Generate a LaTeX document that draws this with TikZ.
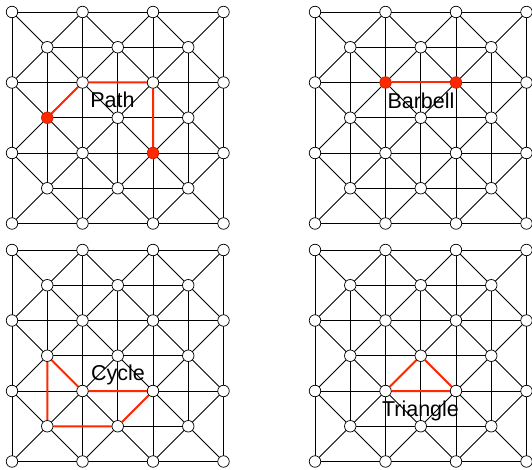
\documentclass[tikz,border=0pt]{standalone}
\usepackage{fontspec}
\setmainfont{Liberation Sans}
\usetikzlibrary{backgrounds}

\definecolor{hotred}{RGB}{255,40,0}

% one square lattice: #1 name prefix, (#2,#3) top-left vertex
\newcommand{\lattice}[3]{%
  \begin{scope}[shift={(#2,#3)}]
    % --- vertices ---
    \foreach \i in {0,2,4,6}
      \foreach \j in {0,2,4,6}
        \node [vtx, #1-\i-\j/.try] (#1-\i-\j) at (\i*35.25, \j*35.25) {};
    \foreach \i in {1,3,5}
      \foreach \j in {1,3,5}
        \node [vtx, #1-\i-\j/.try] (#1-\i-\j) at (\i*35.25, \j*35.25) {};
    % --- edges ---
    \begin{scope}[on background layer]
      \foreach \k in {0,2,4,6} {
        \draw [grid] (#1-0-\k.center) -- (#1-6-\k.center);
        \draw [grid] (#1-\k-0.center) -- (#1-\k-6.center);
      }
      \foreach \k in {1,3,5} {
        \draw [grid] (#1-1-\k.center) -- (#1-5-\k.center);
        \draw [grid] (#1-\k-1.center) -- (#1-\k-5.center);
      }
      \foreach \a/\b in {0/2,2/4,4/6}
        \foreach \c/\d in {0/2,2/4,4/6} {
          \draw [grid] (#1-\a-\c.center) -- (#1-\b-\d.center);
          \draw [grid] (#1-\b-\c.center) -- (#1-\a-\d.center);
        }
    \end{scope}
  \end{scope}}

\begin{document}
\begin{tikzpicture}[
      x=1pt, y=-1pt,
      grid/.style = {draw=black, line width=0.8pt},
      vtx/.style = {circle, draw=black, fill=white, line width=0.7pt, minimum size=11.5pt, inner sep=0pt},
      hot/.style = {fill=hotred, draw=hotred!80!black},
      hl/.style = {draw=hotred, line width=2pt},
      lbl/.style = {font=\fontsize{21.5}{24}\selectfont, inner sep=0pt, anchor=base},
      % --- highlighted vertices ---
      a-1-3/.style = hot, a-4-4/.style = hot,
      b-2-2/.style = hot, b-4-2/.style = hot
    ]
      \useasboundingbox (0,0) rectangle (532,470);

      % --- PATH ---
      \lattice{a}{12}{12}
      \draw [hl] (a-1-3) -- (a-2-2) -- (a-4-2) -- (a-4-4);
      \node [lbl] (pathlbl) at (112.5,108) {Path};

      % --- BARBELL ---
      \lattice{b}{315}{12}
      \draw [hl] (b-2-2) -- (b-4-2);
      \node [lbl] (barbelllbl) at (421,108.5) {Barbell};

      % --- CYCLE ---
      \lattice{c}{12}{250}
      \draw [hl] (c-1-3) -- (c-2-4) -- (c-4-4) -- (c-3-5) -- (c-1-5) -- (c-1-3);
      \node [lbl] (cyclelbl) at (118,380) {Cycle};

      % --- TRIANGLE ---
      \lattice{d}{315}{250}
      \draw [hl] (d-3-3) -- (d-2-4) -- (d-4-4) -- (d-3-3);
      \node [lbl] (trianglelbl) at (420.5,416) {Triangle};

    \end{tikzpicture}
\end{document}
